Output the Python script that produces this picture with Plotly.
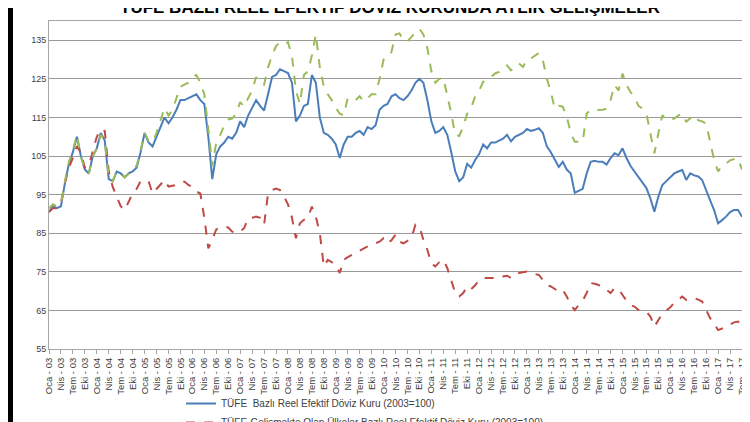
import plotly.graph_objects as go

# Aylar ve yıllar (Oca-03 ... Tem-17)
aylar = ["Oca", "Şub", "Mar", "Nis", "May", "Haz", "Tem", "Ağu", "Eyl", "Eki", "Kas", "Ara"]
yillar = list(range(3, 18))
donemler = [f"{a} - {y:02d}" for y in yillar for a in aylar][:175]

# TÜFE bazlı reel efektif döviz kuru (2003=100)
tufe = [
    90.5, 92, 91.5, 92, 98, 103, 106, 110, 105, 101.5, 100.5, 105,
    107, 111, 109, 99, 98.5, 101, 100.5, 99.5, 100.5, 101, 102, 106,
    111, 108.5, 107.5, 110, 113, 115, 113.5, 115, 117, 119.5, 119.5, 120,
    120.5, 121, 119.5, 118.5, 110, 99, 105.5, 107.5, 108.5, 110, 109.5, 111,
    114, 112.5, 115.5, 117.5, 119.5, 118, 116.8, 121, 125.5, 126, 127.5, 127,
    126.5, 124, 114, 115.5, 118, 118.5, 126, 124, 115, 111, 110.5, 109.5,
    108, 104.5, 108, 110, 110, 111, 111.5, 110.5, 112.5, 112, 113, 117,
    118, 118.5, 120.5, 121, 120, 119.5, 120.5, 122, 124, 125, 124, 119.5,
    114, 111, 111.5, 112.5, 110.5, 106, 101, 98.5, 99.5, 103, 102, 104,
    105.5, 108, 107, 108.5, 108.5, 109, 109.5, 110.5, 108.8, 110, 110.5, 111,
    112, 111.5, 111.8, 112.2, 111, 107.5, 106, 104, 102.2, 103.5, 101.5, 100.5,
    95.5, 96, 96.5, 100.5, 103.5, 103.8, 103.5, 103.5, 102.8, 104.5, 105.7, 105.2,
    107, 104.5, 102.5, 101, 99.5, 98, 96.7, 94, 90.6, 94.5, 97.5, 98.5,
    99.5, 100.5, 101, 101.4, 98.8, 100.5, 100, 99.7, 98.8, 96, 93.5, 91,
    87.6, 88.4, 89.3, 90.5, 91, 91, 89.3,
]

# TÜFE - gelişmekte olan ülkeler bazlı
gelismekte = [
    90.5, 91.5, 91.5, 93, 98, 102, 104.5, 107.5, 106, 102, 102.5, 106,
    110, 112, 111.5, 101, 97, 94.5, 92, 91, 93.2, 95.3, 96.5, 98.5,
    98.4, 98.5, 95.3, 96.5, 97.5, 98.8, 97.1, 97.3, 97.5, 98, 98.4, 97.5,
    97, 95.8, 95.3, 89, 81.1, 83.3, 86, 86.5, 86.7, 86.5, 85.4, 85,
    85.5, 86.3, 88.9, 89, 89.3, 89, 87.2, 95.3, 96.2, 96.6, 96.2, 94.5,
    92.5, 89, 83.7, 87.6, 88.5, 89, 91.9, 89.3, 85, 76.4, 78.1, 77.5,
    76.8, 74.7, 78.1, 78.8, 79.4, 79.8, 80.5, 81.1, 81.6, 82, 82.5, 82.8,
    83.7, 82.4, 83.2, 84.6, 82.8, 82.4, 83, 83.7, 87.2, 86.7, 83.3, 80.7,
    77.2, 76.4, 77.5, 78.1, 76, 72.9, 69.5, 68.6, 69.5, 71.2, 70.5, 71.5,
    72.9, 73.4, 73.4, 73.4, 73.4, 73.4, 73.8, 74, 73.4, 74.2, 74.7, 75,
    75.1, 74.7, 74.5, 74.2, 72.9, 71.6, 71.2, 70.5, 69.9, 70.3, 68.6, 66.4,
    65.1, 66.4, 67.5, 69.5, 72.1, 71.9, 71.6, 70.8, 70.3, 69.5, 70.8, 70.5,
    69, 67.5, 66.4, 66, 65.1, 65, 64.7, 63.4, 60.8, 62.5, 64.2, 65,
    65.8, 67, 67.8, 68.6, 67.7, 68, 68.2, 67.8, 67.3, 65.1, 63, 61.5,
    59.9, 60.3, 60.8, 61.5, 61.9, 62.1, 61.2,
]

# TÜFE - gelişmiş ülkeler bazlı
gelismis = [
    91.5, 92.5, 92, 92.5, 98.5, 103.5, 106.5, 110.5, 105, 101.5, 100.5, 105,
    107, 110.5, 109, 99.5, 98.5, 101, 100.5, 99.5, 100.5, 101.5, 102.5, 106.5,
    111, 109, 108.5, 111, 114, 117.5, 115.5, 117, 120, 123, 123.5, 124,
    125.5, 126, 124, 121, 112, 102.5, 108.5, 110.5, 113, 114.5, 114.7, 116,
    119, 117.8, 120, 122, 125.5, 124, 123.5, 128, 131, 133.5, 134.5, 134,
    134.5, 131, 122, 118.5, 126, 127, 131, 136.5, 128, 123, 121, 119.5,
    117.5, 116, 115.5, 120, 119.7, 119.5, 120.5, 119.2, 120, 121, 121, 125,
    130, 130.5, 132, 136.5, 136.8, 135, 134.7, 136, 137, 138, 136.5, 133,
    127, 124, 125, 125.3, 121, 116, 110.5, 110.2, 112.6, 116, 117.5, 120.5,
    122, 124.2, 125, 125.5, 126.4, 126.8, 127.5, 128.5, 127.2, 128, 129, 128.1,
    130, 130.3, 131, 131.7, 129.8, 125.1, 121.6, 117.3, 118, 117.8, 115.2, 111,
    108.7, 108.7, 108.7, 116, 116.9, 116.9, 116.9, 117, 117.3, 119.5, 123.4, 122,
    126.4, 123.4, 121.6, 120.3, 118, 117.3, 116, 111, 105.7, 110.9, 115.6, 114.3,
    114.5, 114.7, 115.5, 116, 113.9, 114.8, 115.6, 114.3, 114, 113.4, 108.3, 104,
    101, 102.6, 103, 103.9, 104.2, 104.4, 101.5,
]

fig = go.Figure()
fig.add_trace(go.Scatter(x=donemler, y=tufe, mode="lines",
                         name="TÜFE  Bazlı Reel Efektif Döviz Kuru (2003=100)",
                         line=dict(color="#4a7ebb", width=2)))
fig.add_trace(go.Scatter(x=donemler, y=gelismekte, mode="lines",
                         name="TÜFE-Gelişmekte Olan Ülkeler Bazlı Reel Efektif Döviz Kuru (2003=100)",
                         line=dict(color="#be4b48", width=2, dash="dash")))
fig.add_trace(go.Scatter(x=donemler, y=gelismis, mode="lines",
                         name="TÜFE-Gelişmiş Ülkeler Bazlı Reel Efektif Döviz Kuru (2003=100)",
                         line=dict(color="#9bbb59", width=2, dash="dash")))

L, R, T, B = 41, 16, 13, 81
pw = 750 - L - R
ph = 422 - T - B

fig.update_layout(
    width=750, height=422,
    margin=dict(l=L, r=R, t=T, b=B, autoexpand=False),
    paper_bgcolor="white", plot_bgcolor="white",
    font=dict(family="Liberation Sans, Arial, sans-serif", color="#404040"),
    showlegend=True,
    legend=dict(orientation="v", x=(173 - L) / pw, xanchor="left",
                y=-(381 - 341) / ph, yanchor="top", font=dict(size=10, color="#404040"),
                bgcolor="rgba(0,0,0,0)", tracegroupgap=0, itemwidth=30),
    xaxis=dict(type="category", tickmode="array", tickvals=donemler[::3],
               tickangle=-90, tickfont=dict(size=9.5, color="#404040"), automargin=False,
               showgrid=False, showline=True, linecolor="#a6a6a6", mirror=True,
               ticks="outside", ticklen=4, tickcolor="#a6a6a6"),
    yaxis=dict(range=[55, 140], tick0=55, dtick=10, tickfont=dict(size=9, color="#404040"),
               showgrid=True, gridcolor="#9a9a9a", gridwidth=1, automargin=False,
               showline=True, linecolor="#a6a6a6", mirror=True, zeroline=False),
    annotations=[dict(text="<b>TÜFE BAZLI REEL EFEKTİF DÖVİZ KURUNDA AYLIK GELİŞMELER</b>",
                      xref="paper", yref="paper", x=(382 - L) / pw, y=1 + 2 / ph,
                      xanchor="center", yanchor="bottom", showarrow=False,
                      font=dict(size=17, color="black"))],
    shapes=[
        dict(type="rect", xref="paper", yref="paper",
             x0=(0 - L) / pw, x1=(5 - L) / pw, y0=-1, y1=2,
             fillcolor="black", line=dict(width=0), layer="above"),
        dict(type="rect", xref="paper", yref="paper",
             x0=(741 - L) / pw, x1=(752 - L) / pw, y0=-1, y1=2,
             fillcolor="black", line=dict(width=0), layer="above"),
    ],
)

fig.write_html("out.html")
